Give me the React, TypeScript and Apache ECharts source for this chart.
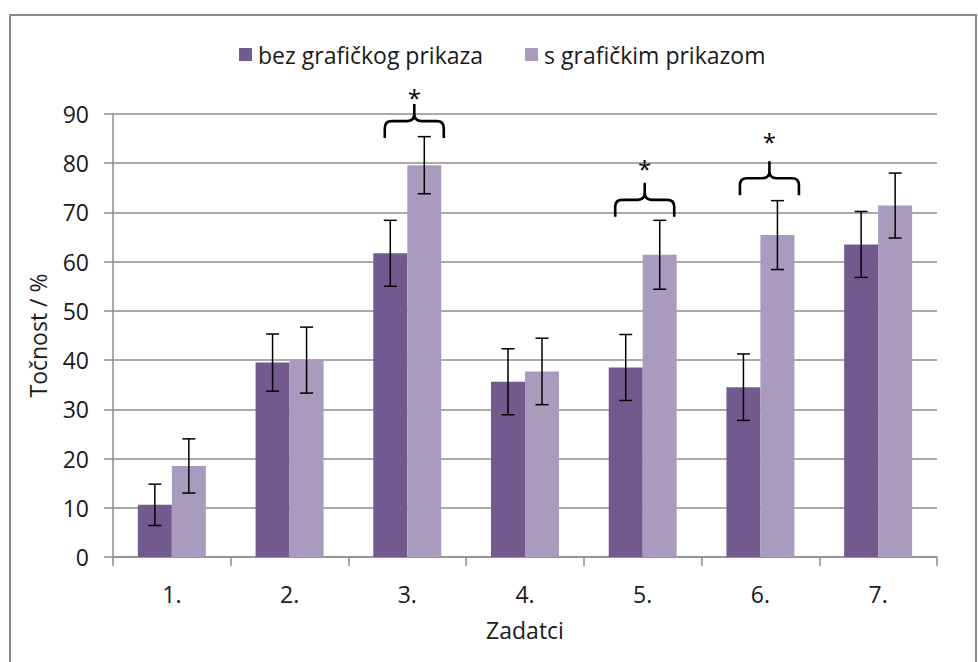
import React, { useEffect, useRef } from "react";
import * as echarts from "echarts";

const categories = ["1.", "2.", "3.", "4.", "5.", "6.", "7."];
const seriesNames = ["bez grafičkog prikaza", "s grafičkim prikazom"];
const withoutValues = [10.6, 39.5, 61.7, 35.6, 38.5, 34.5, 63.5];
const withoutErrors = [4.2, 5.8, 6.7, 6.7, 6.7, 6.75, 6.7];
const withValues = [18.5, 40.0, 79.6, 37.7, 61.4, 65.4, 71.4];
const withErrors = [5.5, 6.7, 5.8, 6.75, 7.0, 7.0, 6.6];
// significance braces: [category index, brace bottom value, asterisk value]
const braces = [
  [2, 85.1, 94.3],
  [4, 69.1, 80.0],
  [5, 73.5, 85.4],
];
const braceShift = [7, 2, 9];
const yTicks = { min: 0, max: 90, interval: 10 };

const FONT = "'Open Sans', sans-serif";
const DARK = "#725a8f";
const LIGHT = "#a99bbe";
const GRID = "#8e8e8e";
const BAR_W = 34;

function errorRenderer(offset: number) {
  return (params: any, api: any) => {
    const x = api.value(0);
    const v = api.value(1);
    const e = api.value(2);
    const hi = api.coord([x, v + e]);
    const lo = api.coord([x, v - e]);
    const px = hi[0] + offset;
    const cap = 6.5;
    const style = { stroke: "#000", lineWidth: 1.5 };
    return {
      type: "group",
      children: [
        { type: "line", shape: { x1: px, y1: hi[1], x2: px, y2: lo[1] }, style },
        { type: "line", shape: { x1: px - cap, y1: hi[1], x2: px + cap, y2: hi[1] }, style },
        { type: "line", shape: { x1: px - cap, y1: lo[1], x2: px + cap, y2: lo[1] }, style },
      ],
    };
  };
}

function braceRenderer(params: any, api: any) {
  const idx = params.dataIndex;
  const base = api.coord([api.value(0), api.value(1)]);
  const star = api.coord([api.value(0), api.value(2)]);
  const c = base[0] + braceShift[idx];
  const half = 29.5;
  const L = c - half;
  const R = c + half;
  const yEnd = base[1];
  const yCross = yEnd - 17;
  const yTop = yCross - 17;
  const r = 7;
  const d =
    `M${L},${yEnd} L${L},${yCross + r} Q${L},${yCross} ${L + r},${yCross} ` +
    `L${c - r},${yCross} Q${c},${yCross} ${c},${yCross - r} L${c},${yTop} ` +
    `M${c},${yCross - r} Q${c},${yCross} ${c + r},${yCross} ` +
    `L${R - r},${yCross} Q${R},${yCross} ${R},${yCross + r} L${R},${yEnd}`;
  return {
    type: "group",
    children: [
      {
        type: "path",
        shape: { pathData: d },
        style: { stroke: "#000", lineWidth: 2.6, fill: "none" },
      },
      {
        type: "text",
        style: {
          text: "*",
          x: c,
          y: star[1] + 5,
          align: "center",
          verticalAlign: "middle",
          fontSize: 24,
          fontFamily: FONT,
          fill: "#000",
        },
      },
    ],
  };
}

export default function App() {
  const ref = useRef<HTMLDivElement>(null);
  useEffect(() => {
    if (!ref.current) return;
    const chart = echarts.init(ref.current, undefined, { renderer: "svg" });
    chart.setOption({
      animation: false,
      backgroundColor: "#fff",
      textStyle: { fontFamily: FONT },
      graphic: [
        {
          type: "rect",
          shape: { x: 10, y: 15, width: 966, height: 700 },
          style: { fill: "none", stroke: "#8a8a8a", lineWidth: 2 },
          silent: true,
        },
      ],
      legend: {
        left: 234,
        top: 38,
        itemWidth: 13,
        itemHeight: 13,
        itemGap: 42,
        icon: "rect",
        data: seriesNames,
        textStyle: { fontSize: 23, color: "#1a1a1a", fontFamily: FONT, padding: [0, 0, 0, 1] },
      },
      grid: { left: 113, right: 41, top: 114, bottom: 105 },
      xAxis: {
        type: "category",
        data: categories,
        name: "Zadatci",
        nameLocation: "middle",
        nameGap: 61,
        nameTextStyle: { fontSize: 23, color: "#1a1a1a", fontFamily: FONT },
        axisLine: { lineStyle: { color: GRID, width: 1.5 } },
        axisTick: { show: true, length: 9, alignWithLabel: false, lineStyle: { color: GRID, width: 1.5 } },
        axisLabel: { fontSize: 23, color: "#1a1a1a", margin: 25, fontFamily: FONT },
      },
      yAxis: {
        type: "value",
        min: yTicks.min,
        max: yTicks.max,
        interval: yTicks.interval,
        name: "Točnost / %",
        nameLocation: "middle",
        nameGap: 64,
        nameRotate: 90,
        nameTextStyle: { fontSize: 23, color: "#1a1a1a", fontFamily: FONT },
        axisLine: { show: true, lineStyle: { color: GRID, width: 1.5 } },
        axisTick: { show: true, length: 9, lineStyle: { color: GRID, width: 1.5 } },
        axisLabel: { fontSize: 23, color: "#1a1a1a", margin: 24, fontFamily: FONT },
        splitLine: { lineStyle: { color: GRID, width: 1.5 } },
      },
      series: [
        {
          name: seriesNames[0],
          type: "bar",
          data: withoutValues,
          barWidth: BAR_W,
          barGap: "0%",
          itemStyle: { color: DARK },
        },
        {
          name: seriesNames[1],
          type: "bar",
          data: withValues,
          barWidth: BAR_W,
          barGap: "0%",
          itemStyle: { color: LIGHT },
        },
        {
          type: "custom",
          renderItem: errorRenderer(-BAR_W / 2),
          data: withoutValues.map((v, i) => [i, v, withoutErrors[i]]),
          z: 10,
          silent: true,
        },
        {
          type: "custom",
          renderItem: errorRenderer(BAR_W / 2),
          data: withValues.map((v, i) => [i, v, withErrors[i]]),
          z: 10,
          silent: true,
        },
        {
          type: "custom",
          renderItem: braceRenderer,
          data: braces,
          z: 10,
          silent: true,
          clip: false,
        },
      ],
    });
    return () => chart.dispose();
  }, []);
  return (
    <div
      ref={ref}
      style={{ position: "fixed", left: 0, top: 0, width: 978, height: 662, background: "#fff" }}
    />
  );
}
